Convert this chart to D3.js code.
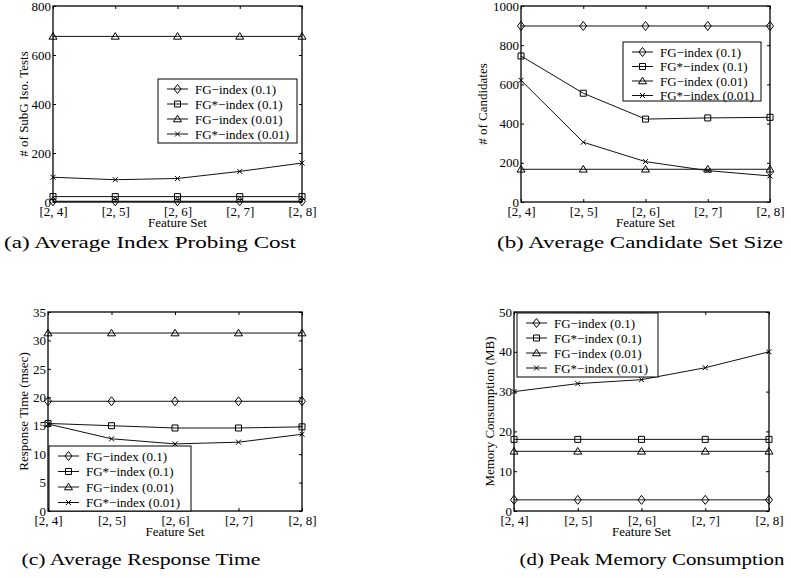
<!DOCTYPE html>
<html>
<head>
<meta charset="utf-8">
<script src="https://cdn.jsdelivr.net/npm/d3@7"></script>
<style>
  body { margin: 0; background: #fff; }
  svg { display: block; }
  text { font-family: "Liberation Serif", "Times New Roman", serif; fill: #000; }
  .tick line { stroke: #000; stroke-width: 1; }
  .caption { font-size: 17px; }
</style>
</head>
<body>
<div id="chart"></div>
<script>
// feature set categories (shared x axis)
var categories = ['[2, 4]', '[2, 5]', '[2, 6]', '[2, 7]', '[2, 8]'];
var seriesNames = ['FG\u2212index (0.1)', 'FG*\u2212index (0.1)', 'FG\u2212index (0.01)', 'FG*\u2212index (0.01)'];
var markers = ['diamond', 'square', 'triangle', 'cross'];

// (a) # of SubG Iso. Tests
var probeFG01 = [3, 3, 3, 3, 3];
var probeFGs01 = [22, 22, 22, 22, 22];
var probeFG001 = [676, 676, 676, 676, 676];
var probeFGs001 = [101, 91, 96, 125, 159];
var probeTicks = [0, 200, 400, 600, 800];

// (b) # of Candidates
var candFG01 = [898, 898, 898, 898, 898];
var candFGs01 = [745, 555, 423, 429, 432];
var candFG001 = [167, 167, 167, 167, 167];
var candFGs001 = [621, 305, 206, 160, 133];
var candTicks = [0, 200, 400, 600, 800, 1000];

// (c) Response Time (msec)
var timeFG01 = [19.3, 19.3, 19.3, 19.3, 19.3];
var timeFGs01 = [15.4, 15.0, 14.6, 14.6, 14.8];
var timeFG001 = [31.3, 31.3, 31.3, 31.3, 31.3];
var timeFGs001 = [15.3, 12.7, 11.8, 12.1, 13.5];
var timeTicks = [0, 5, 10, 15, 20, 25, 30, 35];

// (d) Memory Consumption (MB)
var memFG01 = [2.8, 2.8, 2.8, 2.8, 2.8];
var memFGs01 = [18, 18, 18, 18, 18];
var memFG001 = [15, 15, 15, 15, 15];
var memFGs001 = [30, 32, 33, 36, 40];
var memTicks = [0, 10, 20, 30, 40, 50];

var W = 791, H = 578;
var svg = d3.select('#chart').append('svg')
	.attr('width', W)
	.attr('height', H);

var panels = [
	{ left: 53, right: 302, top: 6, bottom: 202, ylabOff: 30,
	  ylabel: '# of SubG Iso. Tests', ticks: probeTicks,
	  series: [probeFG01, probeFGs01, probeFG001, probeFGs001],
	  legend: { x: 158, y: 79, w: 139, h: 64, row: 15 },
	  caption: '(a) Average Index Probing Cost', capX: 150, capY: 248, capW: 292 },
	{ left: 521, right: 770, top: 6, bottom: 202, ylabOff: 39,
	  ylabel: '# of Candidates', ticks: candTicks,
	  series: [candFG01, candFGs01, candFG001, candFGs001],
	  legend: { x: 623, y: 42, w: 138, h: 59, row: 14.5 },
	  caption: '(b) Average Candidate Set Size', capX: 640, capY: 248, capW: 286 },
	{ left: 48, right: 302, top: 312, bottom: 511, ylabOff: 25,
	  ylabel: 'Response Time (msec)', ticks: timeTicks,
	  series: [timeFG01, timeFGs01, timeFG001, timeFGs001],
	  legend: { x: 49, y: 446, w: 142, h: 65, row: 15.5 },
	  caption: '(c) Average Response Time', capX: 141, capY: 565, capW: 239 },
	{ left: 514, right: 769, top: 312, bottom: 511, ylabOff: 25,
	  ylabel: 'Memory Consumption (MB)', ticks: memTicks,
	  series: [memFG01, memFGs01, memFG001, memFGs001],
	  legend: { x: 517, y: 313, w: 141, h: 64, row: 15 },
	  caption: '(d) Peak Memory Consumption', capX: 652, capY: 565, capW: 265 }
];

function markerPath(type) {
	switch (type) {
		case 'diamond': return 'M0,-4.5L3.5,0L0,4.5L-3.5,0Z';
		case 'square': return 'M-3,-3H3V3H-3Z';
		case 'triangle': return 'M0,-3.8L4,2.8L-4,2.8Z';
		case 'cross': return 'M-2.5,-2.5L2.5,2.5M-2.5,2.5L2.5,-2.5';
	}
}

function drawPanel(p) {
	var x = d3.scalePoint().domain(categories).range([p.left, p.right]).padding(0);
	var yMax = p.ticks[p.ticks.length - 1];
	var y = d3.scaleLinear().domain([0, yMax]).range([p.bottom, p.top]);

	var g = svg.append('g').attr('class', 'panel');

	// axes (MATLAB style: inward ticks on all four sides)
	var bx = g.append('g').attr('transform', 'translate(0,' + p.bottom + ')')
		.call(d3.axisBottom(x).tickSize(-3).tickPadding(5));
	var tx = g.append('g').attr('transform', 'translate(0,' + p.top + ')')
		.call(d3.axisTop(x).tickSize(-3).tickFormat(''));
	var ly = g.append('g').attr('transform', 'translate(' + p.left + ',0)')
		.call(d3.axisLeft(y).tickValues(p.ticks).tickSize(-3).tickPadding(2).tickFormat(d3.format('d')));
	var ry = g.append('g').attr('transform', 'translate(' + p.right + ',0)')
		.call(d3.axisRight(y).tickValues(p.ticks).tickSize(-3).tickFormat(''));
	[bx, tx, ly, ry].forEach(function(a) {
		a.select('.domain').remove();
		a.selectAll('text').style('font-size', '13px').style('font-family', '"Liberation Serif", serif').attr('fill', '#000');
	});

	// series
	var line = d3.line()
		.x(function(d, i) { return x(categories[i]); })
		.y(function(d) { return y(d); });
	p.series.forEach(function(vals, si) {
		g.append('path')
			.attr('d', line(vals))
			.attr('fill', 'none')
			.attr('stroke', '#111')
			.attr('stroke-width', 1);
		g.selectAll('.m' + si).data(vals).enter().append('path')
			.attr('class', 'm' + si)
			.attr('transform', function(d, i) { return 'translate(' + x(categories[i]) + ',' + y(d) + ')'; })
			.attr('d', markerPath(markers[si]))
			.attr('fill', 'none')
			.attr('stroke', '#000')
			.attr('stroke-width', 1);
	});

	// frame
	g.append('rect')
		.attr('x', p.left).attr('y', p.top)
		.attr('width', p.right - p.left).attr('height', p.bottom - p.top)
		.attr('fill', 'none').attr('stroke', '#000').attr('stroke-width', 1.3);

	// labels
	g.append('text')
		.attr('x', (p.left + p.right) / 2)
		.attr('y', p.bottom + 25)
		.attr('text-anchor', 'middle')
		.style('font-size', '13px')
		.text('Feature Set');
	g.append('text')
		.attr('transform', 'translate(' + (p.left - p.ylabOff) + ',' + ((p.top + p.bottom) / 2) + ') rotate(-90)')
		.attr('text-anchor', 'middle')
		.attr('dy', '0.35em')
		.style('font-size', '13px')
		.text(p.ylabel);

	// legend
	var L = p.legend;
	var lg = g.append('g').attr('transform', 'translate(' + L.x + ',' + L.y + ')');
	lg.append('rect')
		.attr('width', L.w).attr('height', L.h)
		.attr('fill', '#fff').attr('stroke', '#000').attr('stroke-width', 1);
	seriesNames.forEach(function(name, si) {
		var cy = 10 + si * L.row;
		lg.append('line')
			.attr('x1', 9).attr('x2', 30).attr('y1', cy).attr('y2', cy)
			.attr('stroke', '#111').attr('stroke-width', 1);
		lg.append('path')
			.attr('transform', 'translate(19.5,' + cy + ')')
			.attr('d', markerPath(markers[si]))
			.attr('fill', 'none').attr('stroke', '#000').attr('stroke-width', 1);
		lg.append('text')
			.attr('x', 37).attr('y', cy)
			.attr('dy', '0.35em')
			.style('font-size', '13px')
			.text(name);
	});

	// caption
	svg.append('text')
		.attr('class', 'caption')
		.attr('x', p.capX).attr('y', p.capY)
		.attr('text-anchor', 'middle')
		.attr('textLength', p.capW)
		.attr('lengthAdjust', 'spacingAndGlyphs')
		.text(p.caption);
}

panels.forEach(drawPanel);
</script>
</body>
</html>
